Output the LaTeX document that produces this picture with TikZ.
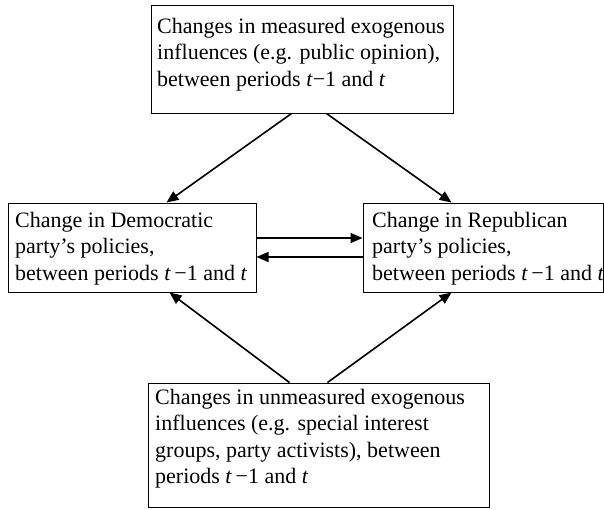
\documentclass[tikz,border=0pt]{standalone}
\usepackage{fontspec}
\setmainfont{Liberation Serif}
\usetikzlibrary{arrows.meta,calc}
\tikzset{
  box/.style={draw=black, line width=1pt, inner sep=0pt},
  txt/.style={inner sep=0pt, anchor=base west, font=\fontsize{22}{26.5}\selectfont},
  arr/.style={line width=1.6pt, -{Triangle[length=12pt,width=10pt]}}
}
\begin{document}
\begin{tikzpicture}[x=1pt,y=-1pt]
\useasboundingbox (0,0) rectangle (604,509);
% boxes
\node[box, minimum width=302pt, minimum height=108pt] (top) at (302,59) {};
\node[box, minimum width=248pt, minimum height=89pt] (left) at (132,247.5) {};
\node[box, minimum width=240pt, minimum height=89pt] (right) at (483,247.5) {};
\node[box, minimum width=341pt, minimum height=124pt] (bottom) at (318.5,445) {};
% texts
\node[txt] (toptext) at (157,33) {\parbox[t]{300pt}{\raggedright Changes in measured exogenous\\influences (e.g. public opinion),\\between periods \textit{t}−1 and \textit{t}}};
\node[txt] (lefttext) at (15,227) {\parbox[t]{250pt}{\raggedright Change in Democratic\\party’s policies,\\between periods \textit{t}\,−1 and \textit{t}}};
\node[txt] (righttext) at (372,227) {\parbox[t]{250pt}{\raggedright Change in Republican\\party’s policies,\\between periods \textit{t}\,−1 and \textit{t}}};
\node[txt] (bottomtext) at (155,404) {\parbox[t]{340pt}{\raggedright Changes in unmeasured exogenous\\influences (e.g. special interest\\groups, party activists), between\\periods \textit{t}\,−1 and \textit{t}}};
% connectors
\draw[arr] ([xshift=141pt]top.south west) -- ([xshift=159pt]left.north west);
\draw[arr] ([xshift=176pt]top.south west) -- ([xshift=89pt]right.north west);
\draw[arr] ([yshift=9.5pt]left.east) -- ([yshift=9.5pt]right.west);
\draw[arr] ([yshift=-9.5pt]right.west) -- ([yshift=-9.5pt]left.east);
\draw[arr] ([xshift=142pt]bottom.north west) -- ([xshift=162pt]left.south west);
\draw[arr] ([xshift=180pt]bottom.north west) -- ([xshift=89pt]right.south west);
\end{tikzpicture}
\end{document}
